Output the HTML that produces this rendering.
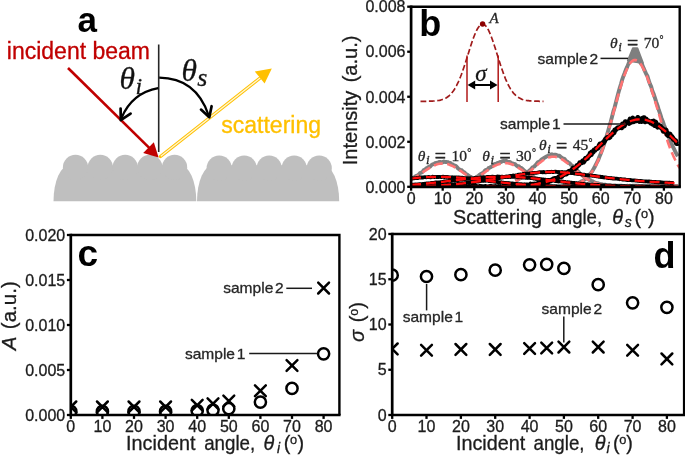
<!DOCTYPE html>
<html lang="en"><head><meta charset="utf-8"><title>Scattering figure</title>
<style>
html,body{margin:0;padding:0;background:#fff;}
body{width:685px;height:455px;overflow:hidden;}
svg{display:block;font-family:"Liberation Sans",Arial,sans-serif;filter:blur(0.6px);}
.tk{font-size:16px;fill:#1c1c1c;stroke:#1c1c1c;stroke-width:0.3px;}
.ax{font-size:20px;fill:#1c1c1c;stroke:#1c1c1c;stroke-width:0.3px;}
.lb{font-size:15.55px;fill:#262626;stroke:#262626;stroke-width:0.3px;word-spacing:-2.5px;}
.pl{font-size:34px;font-weight:bold;fill:#000;}
.mt{font-family:"Liberation Serif","DejaVu Serif",serif;font-style:italic;fill:#262626;stroke:#262626;stroke-width:0.3px;}
.fr{stroke:#000;fill:none;}
</style></head><body>
<svg width="685" height="455" viewBox="0 0 685 455">
<rect width="685" height="455" fill="#fff"/>

<g id="panel-a">
<path d="M53.5,201.3 A16,36 0 0 1 69.5,165.3 L180.3,165.3 A16,36 0 0 1 196.3,201.3 Z" fill="#bfbfbf"/><circle cx="75.5" cy="167.4" r="12.6" fill="#bfbfbf"/><circle cx="100.3" cy="167.4" r="12.6" fill="#bfbfbf"/><circle cx="125.2" cy="167.4" r="12.6" fill="#bfbfbf"/><circle cx="149.8" cy="167.4" r="12.6" fill="#bfbfbf"/><circle cx="174.6" cy="167.4" r="12.6" fill="#bfbfbf"/>
<path d="M197,201.3 A16,36 0 0 1 213,165.3 L323.2,165.3 A16,36 0 0 1 339.2,201.3 Z" fill="#bfbfbf"/><circle cx="219.2" cy="168.2" r="12.6" fill="#bfbfbf"/><circle cx="244.2" cy="168.2" r="12.6" fill="#bfbfbf"/><circle cx="269.2" cy="168.2" r="12.6" fill="#bfbfbf"/><circle cx="294.2" cy="168.2" r="12.6" fill="#bfbfbf"/><circle cx="319.2" cy="168.2" r="12.6" fill="#bfbfbf"/>
<line x1="158.7" y1="44.5" x2="158.7" y2="152" stroke="#262626" stroke-width="1.6"/>
<line x1="68" y1="68" x2="150" y2="148.6" stroke="#c00000" stroke-width="2.6"/>
<polygon points="158.6,157.4 143.2,153.0 153.8,142.2" fill="#c00000"/>
<line x1="160.5" y1="156.5" x2="262" y2="76.5" stroke="#ffc000" stroke-width="3.4" stroke-linecap="round"/>
<line x1="160.8" y1="156.2" x2="262" y2="76.5" stroke="#fff6d6" stroke-width="1.3"/>
<polygon points="271.8,68.4 264.6,83.6 254.8,71.4" fill="#ffc000"/>
<path d="M158.2,88.2 Q132,93 121.5,118" stroke="#000" stroke-width="2.3" fill="none"/>
<path d="M120.8,120.2 L120.6,108.6 M120.8,120.2 L130.6,113.6" stroke="#000" stroke-width="2.7" fill="none" stroke-linecap="round"/>
<path d="M159.2,77.6 Q196,78 208.5,115" stroke="#000" stroke-width="2.3" fill="none"/>
<path d="M209.3,117.2 L201.0,109.6 M209.3,117.2 L211.6,106.2" stroke="#000" stroke-width="2.7" fill="none" stroke-linecap="round"/>
<text x="77.6" y="31.9" class="pl" style="font-size:35px">a</text>
<text x="6.8" y="59" style="font-size:23px;fill:#c00000;stroke:#c00000;stroke-width:0.3px">incident beam</text>
<text x="221.3" y="133" style="font-size:23px;fill:#ffc000;stroke:#ffc000;stroke-width:0.3px">scattering</text>
<text class="mt" y="89.2" style="font-size:31.5px;fill:#111"><tspan x="119.4">θ</tspan><tspan x="135.4" dy="5.1" font-size="24">i</tspan></text>
<text class="mt" y="80.8" style="font-size:31.5px;fill:#111"><tspan x="181.6">θ</tspan><tspan x="197.2" dy="5.5" font-size="26">s</tspan></text>
</g>
<g id="panel-b">
<clipPath id="cb"><rect x="411.1" y="6.7" width="268.6" height="180.10000000000002"/></clipPath>
<g clip-path="url(#cb)" fill="none" stroke-linejoin="round">
<path d="M411.1,179.2 L412.4,178.3 L413.6,177.7 L414.9,176.7 L416.2,175.9 L417.4,175.5 L418.7,174.7 L419.9,173.1 L421.2,172.7 L422.5,171.8 L423.7,170.1 L425.0,169.7 L426.3,168.4 L427.5,167.9 L428.8,166.9 L430.1,166.6 L431.3,165.3 L432.6,164.3 L433.9,164.0 L435.1,163.2 L436.4,162.8 L437.6,163.1 L438.9,161.9 L440.2,161.9 L441.4,162.1 L442.7,162.4 L444.0,161.4 L445.2,162.0 L446.5,162.0 L447.8,162.1 L449.0,162.7 L450.3,163.0 L451.5,164.2 L452.8,164.4 L454.1,165.5 L455.3,165.7 L456.6,166.6 L457.9,168.3 L459.1,169.1 L460.4,169.9 L461.7,170.2 L462.9,171.6 L464.2,172.3 L465.5,173.5 L466.7,174.3 L468.0,175.2 L469.2,176.1 L470.5,176.8 L471.8,177.5 L473.0,178.1 L474.3,179.0 L475.6,179.5 L476.8,180.2 L478.1,180.7" stroke="#7f7f7f" stroke-width="3.9"/>
<path d="M469.6,180.8 L470.8,180.4 L472.1,179.4 L473.4,178.7 L474.6,178.0 L475.9,177.4 L477.1,176.5 L478.4,176.0 L479.7,174.7 L480.9,174.0 L482.2,173.3 L483.5,172.6 L484.7,170.9 L486.0,169.9 L487.3,169.8 L488.5,168.1 L489.8,167.6 L491.0,167.0 L492.3,166.1 L493.6,164.8 L494.8,163.9 L496.1,164.2 L497.4,162.9 L498.6,163.1 L499.9,161.9 L501.2,162.0 L502.4,161.1 L503.7,160.8 L505.0,161.4 L506.2,160.8 L507.5,161.8 L508.7,162.3 L510.0,162.0 L511.3,163.1 L512.5,163.4 L513.8,163.8 L515.1,164.2 L516.3,165.4 L517.6,166.3 L518.9,166.3 L520.1,167.7 L521.4,168.0 L522.6,169.0 L523.9,170.4 L525.2,171.3 L526.4,172.2 L527.7,173.0 L529.0,174.0 L530.2,174.9 L531.5,175.7 L532.8,176.3 L534.0,177.4 L535.3,178.3 L536.6,178.8 L537.8,179.8 L539.1,180.4 L540.3,180.6" stroke="#7f7f7f" stroke-width="3.9"/>
<path d="M515.4,180.8 L516.6,180.1 L517.9,179.7 L519.2,178.7 L520.4,177.8 L521.7,177.3 L523.0,176.0 L524.2,175.0 L525.5,174.4 L526.8,172.9 L528.0,172.0 L529.3,170.6 L530.5,169.7 L531.8,168.2 L533.1,167.0 L534.3,166.5 L535.6,165.2 L536.9,163.5 L538.1,162.0 L539.4,161.6 L540.7,160.4 L541.9,159.2 L543.2,158.6 L544.5,157.7 L545.7,157.0 L547.0,156.3 L548.2,155.5 L549.5,155.4 L550.8,155.0 L552.0,154.3 L553.3,155.2 L554.6,154.6 L555.8,154.6 L557.1,155.4 L558.4,155.9 L559.6,155.8 L560.9,157.1 L562.1,157.9 L563.4,158.5 L564.7,159.1 L565.9,160.8 L567.2,161.6 L568.5,162.7 L569.7,163.3 L571.0,164.9 L572.3,165.7 L573.5,167.5 L574.8,168.6 L576.1,169.5 L577.3,170.5 L578.6,172.0 L579.8,173.2 L581.1,174.4 L582.4,175.1 L583.6,176.3 L584.9,176.8 L586.2,177.7 L587.4,178.9 L588.7,179.6 L590.0,180.0 L591.2,180.7 L592.5,181.2 L593.7,182.0 L595.0,182.6 L596.3,182.9 L597.5,183.1 L598.8,183.7 L600.1,184.0 L601.3,184.2 L602.6,184.5 L603.9,184.7 L605.1,184.7 L606.4,185.1 L607.7,185.3 L608.9,185.1 L610.2,185.2 L611.4,185.3 L612.7,185.6 L614.0,185.4 L615.2,185.5 L616.5,185.8 L617.8,185.6 L619.0,185.6 L620.3,185.7 L621.6,185.8 L622.8,185.9 L624.1,185.9 L625.3,186.0 L626.6,186.0 L627.9,185.8 L629.1,186.0 L630.4,185.8 L631.7,186.1 L632.9,185.7 L634.2,185.8 L635.5,185.7 L636.7,185.8 L638.0,185.8 L639.3,185.9 L640.5,186.1 L641.8,185.8 L643.0,186.0 L644.3,186.0 L645.6,185.8 L646.8,185.9 L648.1,185.9 L649.4,185.7 L650.6,185.9 L651.9,186.0 L653.2,186.0 L654.4,185.8 L655.7,185.9 L656.9,185.8 L658.2,186.0 L659.5,186.0 L660.7,185.9 L662.0,185.8 L663.3,186.0 L664.5,185.8 L665.8,185.7 L667.1,185.8 L668.3,185.8 L669.6,186.1 L670.9,185.9 L672.1,185.8 L673.4,186.1 L674.6,186.0 L675.9,186.0 L677.2,185.9 L678.4,185.9" stroke="#7f7f7f" stroke-width="3.9"/>
<path d="M562.8,185.6 L564.0,185.5 L565.3,185.7 L566.6,185.5 L567.8,185.4 L569.1,185.3 L570.4,185.1 L571.6,184.6 L572.9,184.4 L574.2,184.4 L575.4,183.9 L576.7,183.6 L577.9,183.2 L579.2,182.7 L580.5,182.0 L581.7,181.3 L583.0,180.7 L584.3,179.8 L585.5,178.8 L586.8,177.8 L588.1,176.3 L589.3,174.8 L590.6,173.4 L591.9,171.8 L593.1,169.8 L594.4,167.6 L595.6,165.1 L596.9,162.5 L598.2,160.0 L599.4,156.8 L600.7,153.7 L602.0,150.4 L603.2,146.8 L604.5,142.9 L605.8,138.8 L607.0,134.8 L608.3,130.3 L609.5,126.0 L610.8,121.6 L612.1,116.6 L613.3,111.7 L614.6,107.5 L615.9,102.5 L617.1,97.7 L618.4,92.7 L619.7,88.1 L620.9,84.3 L622.2,79.6 L623.5,75.9 L624.7,72.9 L626.0,69.4 L627.2,66.9 L628.5,63.6 L629.8,61.6 L631.0,59.7 L632.3,58.6 L633.6,58.1 L634.8,57.7 L636.1,58.2 L637.4,59.4 L638.6,59.9 L639.9,62.0 L641.1,63.7 L642.4,65.1 L643.7,68.4 L644.9,71.1 L646.2,74.0 L647.5,76.3 L648.7,80.5 L650.0,84.1 L651.3,86.9 L652.5,91.4 L653.8,94.4 L655.1,98.4 L656.3,102.1 L657.6,105.8 L658.8,110.0 L660.1,113.6 L661.4,117.9 L662.6,120.9 L663.9,124.7 L665.2,128.0 L666.4,131.8 L667.7,134.5 L669.0,137.5 L670.2,141.1 L671.5,143.8 L672.7,146.3 L674.0,148.8 L675.3,151.6 L676.5,154.0 L677.8,156.2" stroke="#7f7f7f" stroke-width="3.9"/>
<path d="M627.9,60.7 L632.9,48.3 L637.4,48.3 L643.0,63.0 Z" fill="#7f7f7f" stroke="#7f7f7f" stroke-width="2"/>
<path d="M411.1,179.7 L412.7,178.9 L414.3,178.0 L415.8,177.0 L417.4,176.0 L419.0,175.0 L420.6,173.9 L422.2,172.8 L423.7,171.7 L425.3,170.7 L426.9,169.6 L428.5,168.6 L430.1,167.6 L431.6,166.7 L433.2,165.9 L434.8,165.2 L436.4,164.6 L438.0,164.1 L439.5,163.8 L441.1,163.6 L442.7,163.5 L444.3,163.6 L445.9,163.8 L447.4,164.1 L449.0,164.6 L450.6,165.2 L452.2,165.9 L453.8,166.7 L455.3,167.6 L456.9,168.6 L458.5,169.6 L460.1,170.7 L461.7,171.7 L463.2,172.8 L464.8,173.9 L466.4,175.0 L468.0,176.0 L469.6,177.0 L471.1,178.0 L472.7,178.9 L474.3,179.7 L475.9,180.5 L477.5,181.2 L479.0,181.8" stroke="#ff7474" stroke-width="2.6" stroke-dasharray="9 4.5"/>
<path d="M469.6,181.4 L471.1,180.7 L472.7,179.9 L474.3,179.1 L475.9,178.2 L477.5,177.2 L479.0,176.2 L480.6,175.2 L482.2,174.1 L483.8,173.0 L485.4,171.9 L486.9,170.8 L488.5,169.7 L490.1,168.7 L491.7,167.7 L493.3,166.7 L494.8,165.8 L496.4,165.1 L498.0,164.4 L499.6,163.9 L501.2,163.5 L502.7,163.2 L504.3,163.1 L505.9,163.1 L507.5,163.2 L509.1,163.5 L510.6,164.0 L512.2,164.5 L513.8,165.2 L515.4,166.0 L517.0,166.9 L518.5,167.9 L520.1,168.9 L521.7,169.9 L523.3,171.0 L524.9,172.1 L526.4,173.2 L528.0,174.3 L529.6,175.4 L531.2,176.4 L532.8,177.4 L534.3,178.4 L535.9,179.2 L537.5,180.1 L539.1,180.8 L540.7,181.5" stroke="#ff7474" stroke-width="2.6" stroke-dasharray="9 4.5"/>
<path d="M515.4,181.3 L517.0,180.6 L518.5,179.7 L520.1,178.8 L521.7,177.8 L523.3,176.7 L524.9,175.5 L526.4,174.3 L528.0,173.0 L529.6,171.6 L531.2,170.3 L532.8,168.8 L534.3,167.4 L535.9,166.0 L537.5,164.7 L539.1,163.3 L540.7,162.1 L542.2,160.9 L543.8,159.9 L545.4,158.9 L547.0,158.2 L548.6,157.5 L550.1,157.1 L551.7,156.8 L553.3,156.7 L554.9,156.8 L556.5,157.1 L558.0,157.5 L559.6,158.2 L561.2,158.9 L562.8,159.9 L564.4,160.9 L565.9,162.1 L567.5,163.3 L569.1,164.7 L570.7,166.0 L572.3,167.4 L573.8,168.8 L575.4,170.3 L577.0,171.6 L578.6,173.0 L580.2,174.3 L581.7,175.5 L583.3,176.7 L584.9,177.8 L586.5,178.8 L588.1,179.7 L589.6,180.6 L591.2,181.3 L592.8,182.0 L594.4,182.6 L596.0,183.2 L597.5,183.6 L599.1,184.0 L600.7,184.4 L602.3,184.7 L603.9,185.0 L605.4,185.2 L607.0,185.4 L608.6,185.5 L610.2,185.6 L611.8,185.7 L613.3,185.8 L614.9,185.9 L616.5,185.9 L618.1,186.0 L619.7,186.0 L621.2,186.0 L622.8,186.1 L624.4,186.1 L626.0,186.1 L627.6,186.1 L629.1,186.1 L630.7,186.1 L632.3,186.1 L633.9,186.1 L635.5,186.1 L637.0,186.1 L638.6,186.1 L640.2,186.1 L641.8,186.1 L643.4,186.1 L644.9,186.1 L646.5,186.1 L648.1,186.1 L649.7,186.1 L651.3,186.1 L652.8,186.1 L654.4,186.1 L656.0,186.1 L657.6,186.1 L659.2,186.1 L660.7,186.1 L662.3,186.1 L663.9,186.1 L665.5,186.1 L667.1,186.1 L668.6,186.1 L670.2,186.1 L671.8,186.1 L673.4,186.1 L675.0,186.1 L676.5,186.1 L678.1,186.1" stroke="#ff7474" stroke-width="2.6" stroke-dasharray="9 4.5"/>
<path d="M562.8,185.9 L564.4,185.8 L565.9,185.7 L567.5,185.5 L569.1,185.4 L570.7,185.2 L572.3,184.9 L573.8,184.6 L575.4,184.2 L577.0,183.7 L578.6,183.2 L580.2,182.5 L581.7,181.7 L583.3,180.7 L584.9,179.6 L586.5,178.2 L588.1,176.7 L589.6,174.9 L591.2,172.9 L592.8,170.6 L594.4,168.0 L596.0,165.1 L597.5,161.8 L599.1,158.3 L600.7,154.4 L602.3,150.2 L603.9,145.6 L605.4,140.8 L607.0,135.7 L608.6,130.3 L610.2,124.7 L611.8,119.0 L613.3,113.2 L614.9,107.3 L616.5,101.4 L618.1,95.7 L619.7,90.1 L621.2,84.8 L622.8,79.8 L624.4,75.3 L626.0,71.2 L627.6,67.7 L629.1,64.7 L630.7,62.5 L632.3,61.0 L633.9,60.1 L635.5,60.0 L637.0,60.6 L638.6,61.7 L640.2,63.5 L641.8,65.8 L643.4,68.6 L644.9,71.9 L646.5,75.6 L648.1,79.7 L649.7,84.2 L651.3,89.0 L652.8,93.9 L654.4,99.1 L656.0,104.3 L657.6,109.6 L659.2,114.9 L660.7,120.2 L662.3,125.3 L663.9,130.4 L665.5,135.2 L667.1,139.9 L668.6,144.3 L670.2,148.5 L671.8,152.4 L673.4,156.1 L675.0,159.5 L676.5,162.6 L678.1,165.5 L679.7,168.1" stroke="#ff7474" stroke-width="2.6" stroke-dasharray="9 4.5"/>
<path d="M411.1,178.4 L412.0,178.2 L413.0,178.3 L413.9,178.3 L414.9,178.2 L415.8,178.1 L416.8,178.0 L417.7,178.1 L418.7,177.8 L419.6,177.4 L420.6,177.7 L421.5,177.4 L422.5,177.7 L423.4,177.3 L424.4,177.2 L425.3,177.2 L426.3,177.3 L427.2,177.2 L428.2,177.1 L429.1,176.9 L430.1,177.3 L431.0,177.3 L432.0,176.9 L432.9,176.7 L433.9,177.0 L434.8,177.0 L435.7,176.8 L436.7,177.1 L437.6,177.0 L438.6,177.1 L439.5,176.8 L440.5,177.0 L441.4,177.1 L442.4,176.8 L443.3,176.6 L444.3,177.1 L445.2,176.8 L446.2,177.0 L447.1,176.8 L448.1,177.0 L449.0,177.2 L450.0,177.3 L450.9,177.5 L451.9,177.2 L452.8,177.3 L453.8,177.5 L454.7,177.5 L455.7,177.5 L456.6,177.3 L457.6,177.8 L458.5,177.3 L459.4,177.7 L460.4,177.7 L461.3,177.9 L462.3,177.7 L463.2,177.8 L464.2,178.1 L465.1,178.2 L466.1,178.2 L467.0,178.2 L468.0,178.5 L468.9,178.4 L469.9,178.4 L470.8,178.8 L471.8,179.0 L472.7,179.1 L473.7,179.0 L474.6,179.1 L475.6,179.1 L476.5,179.2 L477.5,179.6 L478.4,179.8 L479.4,179.9 L480.3,180.0 L481.3,179.9 L482.2,179.9 L483.1,180.0 L484.1,180.4 L485.0,180.3 L486.0,180.6 L486.9,180.7 L487.9,180.7 L488.8,181.1 L489.8,181.2 L490.7,181.0 L491.7,181.4 L492.6,181.4 L493.6,181.5 L494.5,181.5 L495.5,181.9 L496.4,181.9 L497.4,182.0 L498.3,182.1 L499.3,182.3 L500.2,182.3 L501.2,182.2 L502.1,182.6 L503.1,182.6 L504.0,182.9 L505.0,182.9 L505.9,182.9 L506.8,183.2 L507.8,183.0 L508.7,183.1 L509.7,183.5 L510.6,183.3 L511.6,183.6 L512.5,183.5 L513.5,183.6 L514.4,183.9 L515.4,183.9 L516.3,183.9 L517.3,184.0 L518.2,184.2 L519.2,184.2 L520.1,184.2 L521.1,184.4 L522.0,184.5 L523.0,184.7 L523.9,184.6 L524.9,184.8 L525.8,184.7 L526.8,184.8 L527.7,184.9 L528.7,185.1 L529.6,185.0 L530.5,185.1 L531.5,185.3 L532.4,185.1 L533.4,185.3 L534.3,185.4 L535.3,185.3 L536.2,185.5 L537.2,185.6 L538.1,185.5 L539.1,185.6 L540.0,185.6 L541.0,185.7 L541.9,185.8 L542.9,185.8 L543.8,185.9 L544.8,186.0 L545.7,185.9 L546.7,185.9 L547.6,186.0 L548.6,186.0 L549.5,186.1 L550.5,186.1 L551.4,186.1 L552.4,186.1 L553.3,186.3 L554.2,186.2 L555.2,186.3 L556.1,186.2 L557.1,186.3 L558.0,186.3 L559.0,186.4 L559.9,186.3 L560.9,186.3 L561.8,186.4 L562.8,186.3 L563.7,186.5 L564.7,186.5 L565.6,186.5 L566.6,186.6 L567.5,186.4 L568.5,186.5 L569.4,186.6 L570.4,186.6 L571.3,186.6 L572.3,186.5 L573.2,186.5 L574.2,186.5 L575.1,186.6 L576.1,186.7 L577.0,186.6 L577.9,186.7 L578.9,186.6 L579.8,186.6 L580.8,186.7 L581.7,186.7 L582.7,186.6 L583.6,186.8 L584.6,186.6 L585.5,186.6 L586.5,186.6 L587.4,186.7 L588.4,186.7 L589.3,186.7 L590.3,186.7 L591.2,186.6 L592.2,186.7 L593.1,186.8 L594.1,186.7 L595.0,186.7 L596.0,186.7 L596.9,186.7 L597.9,186.8 L598.8,186.7 L599.8,186.7 L600.7,186.8 L601.6,186.8 L602.6,186.8 L603.5,186.8 L604.5,186.8 L605.4,186.9 L606.4,186.8 L607.3,186.7 L608.3,186.8 L609.2,186.8 L610.2,186.7 L611.1,186.7 L612.1,186.8 L613.0,186.7 L614.0,186.8 L614.9,186.9 L615.9,186.8 L616.8,186.8 L617.8,186.9 L618.7,186.8 L619.7,186.7 L620.6,186.8 L621.6,186.7 L622.5,186.8 L623.5,186.9 L624.4,186.7 L625.3,186.8 L626.3,186.7 L627.2,186.8 L628.2,186.8 L629.1,186.8 L630.1,186.7 L631.0,186.7 L632.0,186.7 L632.9,186.8 L633.9,186.8 L634.8,186.8 L635.8,186.9 L636.7,186.9 L637.7,186.9 L638.6,186.9 L639.6,186.9 L640.5,186.8 L641.5,186.8 L642.4,186.8 L643.4,186.8 L644.3,186.8 L645.3,186.8 L646.2,186.8 L647.2,186.8 L648.1,186.8 L649.0,186.9 L650.0,186.7 L650.9,186.8 L651.9,186.8 L652.8,186.8 L653.8,186.8 L654.7,186.8 L655.7,186.8 L656.6,186.9 L657.6,186.9 L658.5,186.7 L659.5,186.9 L660.4,186.8 L661.4,186.9 L662.3,186.9 L663.3,186.9 L664.2,186.8 L665.2,186.9 L666.1,186.9 L667.1,186.9 L668.0,186.9 L669.0,186.8 L669.9,186.9 L670.9,186.9 L671.8,186.8 L672.7,186.8 L673.7,186.8" stroke="#000" stroke-width="3.8"/>
<path d="M411.1,185.0 L412.0,184.8 L413.0,184.7 L413.9,184.8 L414.9,184.4 L415.8,184.6 L416.8,184.5 L417.7,184.3 L418.7,184.4 L419.6,184.1 L420.6,184.1 L421.5,184.1 L422.5,184.1 L423.4,183.8 L424.4,183.8 L425.3,183.6 L426.3,183.6 L427.2,183.3 L428.2,183.5 L429.1,183.4 L430.1,183.3 L431.0,183.0 L432.0,183.0 L432.9,183.0 L433.9,182.9 L434.8,182.6 L435.7,182.4 L436.7,182.4 L437.6,182.6 L438.6,182.4 L439.5,182.3 L440.5,182.2 L441.4,182.1 L442.4,182.0 L443.3,181.7 L444.3,181.4 L445.2,181.6 L446.2,181.2 L447.1,181.3 L448.1,181.0 L449.0,180.9 L450.0,180.7 L450.9,181.0 L451.9,180.8 L452.8,180.5 L453.8,180.3 L454.7,180.5 L455.7,180.3 L456.6,180.0 L457.6,180.2 L458.5,179.9 L459.4,179.9 L460.4,179.6 L461.3,179.3 L462.3,179.6 L463.2,179.2 L464.2,179.1 L465.1,178.9 L466.1,179.0 L467.0,178.7 L468.0,178.9 L468.9,178.7 L469.9,178.7 L470.8,178.3 L471.8,178.4 L472.7,178.4 L473.7,178.4 L474.6,178.0 L475.6,178.0 L476.5,177.8 L477.5,177.9 L478.4,177.8 L479.4,177.9 L480.3,177.5 L481.3,177.8 L482.2,177.5 L483.1,177.2 L484.1,177.2 L485.0,177.5 L486.0,177.4 L486.9,176.9 L487.9,177.0 L488.8,176.8 L489.8,176.8 L490.7,177.0 L491.7,176.7 L492.6,176.7 L493.6,176.9 L494.5,176.9 L495.5,177.0 L496.4,176.8 L497.4,176.4 L498.3,177.0 L499.3,176.6 L500.2,176.9 L501.2,176.9 L502.1,176.6 L503.1,176.8 L504.0,177.0 L505.0,176.9 L505.9,176.6 L506.8,176.6 L507.8,177.0 L508.7,176.9 L509.7,176.5 L510.6,177.0 L511.6,176.8 L512.5,176.9 L513.5,176.7 L514.4,176.9 L515.4,176.8 L516.3,177.0 L517.3,177.3 L518.2,177.3 L519.2,177.4 L520.1,177.1 L521.1,177.5 L522.0,177.7 L523.0,177.2 L523.9,177.7 L524.9,177.4 L525.8,177.9 L526.8,177.8 L527.7,178.0 L528.7,177.7 L529.6,177.9 L530.5,178.0 L531.5,178.0 L532.4,178.1 L533.4,178.5 L534.3,178.4 L535.3,178.6 L536.2,178.9 L537.2,178.6 L538.1,178.8 L539.1,178.8 L540.0,179.2 L541.0,179.2 L541.9,179.3 L542.9,179.3 L543.8,179.7 L544.8,179.7 L545.7,179.7 L546.7,180.1 L547.6,179.9 L548.6,180.0 L549.5,180.2 L550.5,180.2 L551.4,180.4 L552.4,180.7 L553.3,180.7 L554.2,180.5 L555.2,181.0 L556.1,181.0 L557.1,181.3 L558.0,181.4 L559.0,181.5 L559.9,181.3 L560.9,181.5 L561.8,181.5 L562.8,181.6 L563.7,181.9 L564.7,181.8 L565.6,182.1 L566.6,182.3 L567.5,182.2 L568.5,182.3 L569.4,182.4 L570.4,182.7 L571.3,182.7 L572.3,182.9 L573.2,182.8 L574.2,182.9 L575.1,183.2 L576.1,183.1 L577.0,183.5 L577.9,183.6 L578.9,183.5 L579.8,183.7 L580.8,183.7 L581.7,183.8 L582.7,184.0 L583.6,183.9 L584.6,184.1 L585.5,184.2 L586.5,184.3 L587.4,184.2 L588.4,184.3 L589.3,184.5 L590.3,184.6 L591.2,184.7 L592.2,184.7 L593.1,184.9 L594.1,184.9 L595.0,184.8 L596.0,184.9 L596.9,184.9 L597.9,185.0 L598.8,185.0 L599.8,185.2 L600.7,185.3 L601.6,185.4 L602.6,185.4 L603.5,185.4 L604.5,185.5 L605.4,185.5 L606.4,185.5 L607.3,185.7 L608.3,185.7 L609.2,185.6 L610.2,185.7 L611.1,185.8 L612.1,185.9 L613.0,185.8 L614.0,186.0 L614.9,186.0 L615.9,186.0 L616.8,186.0 L617.8,186.1 L618.7,186.2 L619.7,186.2 L620.6,186.1 L621.6,186.2 L622.5,186.1 L623.5,186.2 L624.4,186.1 L625.3,186.4 L626.3,186.4 L627.2,186.4 L628.2,186.3 L629.1,186.4 L630.1,186.5 L631.0,186.4 L632.0,186.5 L632.9,186.5 L633.9,186.5 L634.8,186.4 L635.8,186.5 L636.7,186.5 L637.7,186.6 L638.6,186.5 L639.6,186.5 L640.5,186.5 L641.5,186.5 L642.4,186.5 L643.4,186.6 L644.3,186.7 L645.3,186.6 L646.2,186.6 L647.2,186.6 L648.1,186.6 L649.0,186.6 L650.0,186.7 L650.9,186.7 L651.9,186.8 L652.8,186.6 L653.8,186.6 L654.7,186.6 L655.7,186.7 L656.6,186.7 L657.6,186.6 L658.5,186.7 L659.5,186.7 L660.4,186.7 L661.4,186.7 L662.3,186.8 L663.3,186.8 L664.2,186.7 L665.2,186.7 L666.1,186.7 L667.1,186.8 L668.0,186.8 L669.0,186.8 L669.9,186.7 L670.9,186.8 L671.8,186.7 L672.7,186.8 L673.7,186.8" stroke="#000" stroke-width="3.8"/>
<path d="M411.1,186.4 L412.0,186.4 L413.0,186.3 L413.9,186.3 L414.9,186.3 L415.8,186.3 L416.8,186.4 L417.7,186.3 L418.7,186.2 L419.6,186.2 L420.6,186.2 L421.5,186.1 L422.5,186.1 L423.4,186.2 L424.4,186.0 L425.3,186.1 L426.3,186.0 L427.2,185.9 L428.2,185.8 L429.1,185.9 L430.1,185.9 L431.0,185.7 L432.0,185.8 L432.9,185.8 L433.9,185.6 L434.8,185.7 L435.7,185.6 L436.7,185.4 L437.6,185.4 L438.6,185.5 L439.5,185.4 L440.5,185.4 L441.4,185.4 L442.4,185.3 L443.3,185.0 L444.3,185.2 L445.2,185.1 L446.2,185.0 L447.1,185.0 L448.1,184.8 L449.0,184.7 L450.0,184.6 L450.9,184.6 L451.9,184.4 L452.8,184.6 L453.8,184.4 L454.7,184.1 L455.7,184.3 L456.6,184.1 L457.6,184.0 L458.5,184.0 L459.4,183.8 L460.4,183.8 L461.3,183.7 L462.3,183.4 L463.2,183.5 L464.2,183.2 L465.1,183.3 L466.1,182.9 L467.0,182.9 L468.0,182.8 L468.9,182.8 L469.9,182.7 L470.8,182.4 L471.8,182.5 L472.7,182.3 L473.7,182.0 L474.6,181.9 L475.6,182.0 L476.5,181.6 L477.5,181.6 L478.4,181.5 L479.4,181.4 L480.3,181.2 L481.3,180.8 L482.2,180.9 L483.1,180.9 L484.1,180.7 L485.0,180.6 L486.0,180.3 L486.9,180.0 L487.9,180.1 L488.8,179.9 L489.8,179.5 L490.7,179.3 L491.7,179.2 L492.6,179.3 L493.6,179.1 L494.5,178.7 L495.5,178.7 L496.4,178.5 L497.4,178.5 L498.3,178.4 L499.3,178.1 L500.2,177.8 L501.2,177.6 L502.1,177.5 L503.1,177.4 L504.0,177.2 L505.0,177.1 L505.9,176.9 L506.8,176.6 L507.8,176.7 L508.7,176.4 L509.7,176.1 L510.6,176.0 L511.6,176.1 L512.5,175.6 L513.5,175.5 L514.4,175.7 L515.4,175.5 L516.3,175.4 L517.3,175.3 L518.2,174.7 L519.2,174.8 L520.1,174.4 L521.1,174.7 L522.0,174.6 L523.0,174.0 L523.9,173.9 L524.9,173.7 L525.8,173.7 L526.8,173.7 L527.7,173.5 L528.7,173.7 L529.6,173.4 L530.5,173.3 L531.5,173.4 L532.4,173.0 L533.4,173.1 L534.3,172.9 L535.3,172.9 L536.2,172.8 L537.2,172.7 L538.1,172.5 L539.1,172.2 L540.0,172.1 L541.0,172.1 L541.9,172.1 L542.9,172.4 L543.8,171.9 L544.8,172.3 L545.7,172.3 L546.7,172.1 L547.6,171.9 L548.6,172.1 L549.5,171.9 L550.5,172.1 L551.4,171.7 L552.4,172.0 L553.3,172.0 L554.2,171.9 L555.2,171.7 L556.1,171.7 L557.1,172.0 L558.0,172.1 L559.0,172.0 L559.9,172.4 L560.9,172.2 L561.8,172.0 L562.8,172.1 L563.7,172.7 L564.7,172.2 L565.6,172.6 L566.6,172.3 L567.5,172.8 L568.5,173.0 L569.4,172.9 L570.4,172.8 L571.3,173.2 L572.3,173.0 L573.2,173.2 L574.2,173.5 L575.1,173.7 L576.1,173.7 L577.0,173.8 L577.9,174.0 L578.9,173.9 L579.8,173.9 L580.8,174.2 L581.7,174.6 L582.7,174.7 L583.6,174.7 L584.6,174.7 L585.5,175.1 L586.5,175.2 L587.4,175.2 L588.4,175.4 L589.3,175.6 L590.3,175.5 L591.2,175.4 L592.2,175.8 L593.1,175.8 L594.1,175.9 L595.0,176.0 L596.0,176.1 L596.9,176.4 L597.9,176.4 L598.8,176.8 L599.8,176.6 L600.7,177.0 L601.6,177.0 L602.6,177.0 L603.5,177.4 L604.5,177.5 L605.4,177.3 L606.4,177.6 L607.3,177.9 L608.3,178.0 L609.2,178.0 L610.2,178.3 L611.1,178.0 L612.1,178.4 L613.0,178.5 L614.0,178.5 L614.9,178.6 L615.9,178.7 L616.8,178.7 L617.8,178.8 L618.7,179.0 L619.7,179.3 L620.6,179.0 L621.6,179.2 L622.5,179.6 L623.5,179.5 L624.4,179.5 L625.3,179.5 L626.3,179.9 L627.2,180.0 L628.2,179.9 L629.1,180.1 L630.1,180.0 L631.0,180.1 L632.0,180.3 L632.9,180.4 L633.9,180.4 L634.8,180.4 L635.8,180.7 L636.7,180.7 L637.7,180.9 L638.6,180.8 L639.6,181.1 L640.5,180.8 L641.5,181.1 L642.4,181.1 L643.4,181.3 L644.3,181.4 L645.3,181.4 L646.2,181.3 L647.2,181.5 L648.1,181.6 L649.0,181.4 L650.0,181.6 L650.9,181.7 L651.9,181.9 L652.8,181.9 L653.8,181.8 L654.7,182.1 L655.7,182.0 L656.6,182.1 L657.6,182.2 L658.5,182.1 L659.5,182.1 L660.4,182.2 L661.4,182.3 L662.3,182.5 L663.3,182.6 L664.2,182.6 L665.2,182.6 L666.1,182.7 L667.1,182.6 L668.0,182.8 L669.0,182.7 L669.9,182.7 L670.9,183.0 L671.8,182.8 L672.7,183.0 L673.7,183.1" stroke="#000" stroke-width="3.8"/>
<path d="M411.1,187.2 L412.0,187.4 L413.0,186.8 L413.9,186.9 L414.9,186.4 L415.8,186.4 L416.8,187.4 L417.7,186.9 L418.7,186.9 L419.6,187.2 L420.6,187.1 L421.5,187.1 L422.5,186.6 L423.4,187.0 L424.4,187.3 L425.3,187.2 L426.3,186.9 L427.2,186.7 L428.2,187.1 L429.1,186.5 L430.1,187.2 L431.0,186.6 L432.0,186.7 L432.9,187.2 L433.9,186.5 L434.8,186.9 L435.7,186.7 L436.7,186.7 L437.6,186.6 L438.6,186.9 L439.5,187.4 L440.5,186.4 L441.4,186.3 L442.4,186.8 L443.3,186.7 L444.3,187.1 L445.2,186.3 L446.2,186.6 L447.1,187.1 L448.1,186.4 L449.0,186.2 L450.0,187.0 L450.9,186.2 L451.9,186.8 L452.8,187.2 L453.8,186.5 L454.7,187.0 L455.7,186.5 L456.6,186.7 L457.6,187.3 L458.5,186.8 L459.4,186.4 L460.4,186.8 L461.3,186.7 L462.3,186.3 L463.2,186.9 L464.2,186.8 L465.1,186.7 L466.1,186.4 L467.0,187.2 L468.0,187.3 L468.9,186.5 L469.9,186.7 L470.8,187.0 L471.8,186.3 L472.7,186.3 L473.7,186.7 L474.6,186.2 L475.6,186.4 L476.5,186.5 L477.5,187.0 L478.4,187.4 L479.4,186.5 L480.3,186.5 L481.3,187.0 L482.2,186.8 L483.1,186.7 L484.1,187.1 L485.0,186.5 L486.0,186.7 L486.9,186.9 L487.9,187.2 L488.8,186.7 L489.8,186.9 L490.7,186.4 L491.7,187.1 L492.6,186.8 L493.6,187.1 L494.5,186.8 L495.5,186.6 L496.4,187.2 L497.4,187.2 L498.3,186.6 L499.3,187.0 L500.2,186.6 L501.2,187.0 L502.1,187.1 L503.1,186.5 L504.0,186.0 L505.0,186.0 L505.9,186.5 L506.8,186.6 L507.8,187.0 L508.7,186.7 L509.7,186.6 L510.6,185.8 L511.6,186.8 L512.5,185.7 L513.5,186.2 L514.4,186.3 L515.4,186.4 L516.3,185.5 L517.3,186.4 L518.2,185.9 L519.2,185.9 L520.1,186.2 L521.1,186.2 L522.0,185.1 L523.0,185.3 L523.9,185.3 L524.9,185.0 L525.8,185.9 L526.8,185.0 L527.7,184.9 L528.7,185.5 L529.6,185.1 L530.5,184.2 L531.5,185.0 L532.4,184.3 L533.4,185.0 L534.3,184.1 L535.3,184.5 L536.2,184.0 L537.2,184.1 L538.1,183.2 L539.1,183.2 L540.0,183.3 L541.0,182.9 L541.9,183.0 L542.9,182.3 L543.8,182.8 L544.8,182.2 L545.7,181.9 L546.7,181.9 L547.6,182.2 L548.6,181.7 L549.5,180.7 L550.5,181.0 L551.4,179.9 L552.4,179.9 L553.3,178.9 L554.2,178.7 L555.2,178.5 L556.1,178.7 L557.1,178.8 L558.0,177.6 L559.0,176.8 L559.9,176.1 L560.9,176.8 L561.8,176.5 L562.8,174.5 L563.7,174.4 L564.7,174.4 L565.6,173.4 L566.6,173.9 L567.5,172.6 L568.5,171.8 L569.4,171.3 L570.4,171.6 L571.3,171.0 L572.3,169.3 L573.2,168.1 L574.2,169.0 L575.1,168.6 L576.1,167.8 L577.0,165.5 L577.9,165.6 L578.9,164.7 L579.8,162.7 L580.8,162.8 L581.7,162.8 L582.7,161.0 L583.6,161.9 L584.6,160.3 L585.5,158.4 L586.5,158.9 L587.4,158.4 L588.4,156.3 L589.3,155.9 L590.3,153.2 L591.2,154.7 L592.2,151.8 L593.1,152.1 L594.1,150.0 L595.0,150.1 L596.0,148.5 L596.9,148.6 L597.9,148.0 L598.8,146.3 L599.8,144.2 L600.7,144.8 L601.6,144.2 L602.6,142.7 L603.5,142.8 L604.5,141.1 L605.4,139.3 L606.4,138.5 L607.3,137.4 L608.3,137.6 L609.2,137.7 L610.2,136.8 L611.1,134.8 L612.1,134.5 L613.0,132.3 L614.0,132.6 L614.9,129.9 L615.9,129.7 L616.8,128.7 L617.8,127.7 L618.7,127.8 L619.7,127.5 L620.6,127.3 L621.6,127.7 L622.5,124.0 L623.5,124.6 L624.4,125.8 L625.3,121.7 L626.3,122.7 L627.2,122.0 L628.2,122.3 L629.1,123.3 L630.1,119.1 L631.0,122.4 L632.0,121.2 L632.9,118.1 L633.9,121.7 L634.8,119.8 L635.8,119.7 L636.7,120.6 L637.7,117.5 L638.6,119.7 L639.6,121.4 L640.5,119.4 L641.5,121.5 L642.4,118.4 L643.4,117.8 L644.3,117.8 L645.3,121.8 L646.2,119.2 L647.2,121.1 L648.1,120.7 L649.0,121.7 L650.0,122.1 L650.9,123.2 L651.9,121.5 L652.8,124.3 L653.8,121.1 L654.7,125.5 L655.7,122.2 L656.6,126.0 L657.6,127.0 L658.5,124.9 L659.5,126.5 L660.4,126.2 L661.4,128.0 L662.3,128.3 L663.3,131.2 L664.2,129.7 L665.2,131.1 L666.1,130.2 L667.1,134.7 L668.0,135.3 L669.0,133.9 L669.9,133.9 L670.9,136.6 L671.8,136.5 L672.7,138.0 L673.7,139.5 L674.6,140.2 L675.6,140.7 L676.5,143.6 L677.5,143.6 L678.4,143.1" stroke="#000" stroke-width="5.0"/>
<path d="M411.1,178.5 L412.7,178.3 L414.3,178.2 L415.8,178.0 L417.4,177.9 L419.0,177.7 L420.6,177.6 L422.2,177.5 L423.7,177.4 L425.3,177.3 L426.9,177.2 L428.5,177.2 L430.1,177.1 L431.6,177.0 L433.2,177.0 L434.8,176.9 L436.4,176.9 L438.0,176.9 L439.5,176.9 L441.1,176.9 L442.7,176.9 L444.3,176.9 L445.9,177.0 L447.4,177.0 L449.0,177.1 L450.6,177.2 L452.2,177.2 L453.8,177.3 L455.3,177.4 L456.9,177.5 L458.5,177.6 L460.1,177.7 L461.7,177.9 L463.2,178.0 L464.8,178.2 L466.4,178.3 L468.0,178.5 L469.6,178.6 L471.1,178.8 L472.7,179.0 L474.3,179.2 L475.9,179.3 L477.5,179.5 L479.0,179.7 L480.6,179.9 L482.2,180.1 L483.8,180.3 L485.4,180.5 L486.9,180.7 L488.5,180.9 L490.1,181.1 L491.7,181.3 L493.3,181.5 L494.8,181.7 L496.4,181.8 L498.0,182.0 L499.6,182.2 L501.2,182.4 L502.7,182.6 L504.3,182.8 L505.9,182.9 L507.5,183.1 L509.1,183.3 L510.6,183.4 L512.2,183.6 L513.8,183.8 L515.4,183.9 L517.0,184.1 L518.5,184.2 L520.1,184.3 L521.7,184.5 L523.3,184.6 L524.9,184.7 L526.4,184.8 L528.0,184.9 L529.6,185.1 L531.2,185.2 L532.8,185.3 L534.3,185.4 L535.9,185.4 L537.5,185.5 L539.1,185.6 L540.7,185.7 L542.2,185.8 L543.8,185.8 L545.4,185.9 L547.0,186.0 L548.6,186.0 L550.1,186.1 L551.7,186.1 L553.3,186.2 L554.9,186.2 L556.5,186.3 L558.0,186.3 L559.6,186.3 L561.2,186.4 L562.8,186.4 L564.4,186.4 L565.9,186.5 L567.5,186.5 L569.1,186.5 L570.7,186.5 L572.3,186.6 L573.8,186.6 L575.4,186.6 L577.0,186.6 L578.6,186.6 L580.2,186.7 L581.7,186.7 L583.3,186.7 L584.9,186.7 L586.5,186.7 L588.1,186.7 L589.6,186.7 L591.2,186.7 L592.8,186.7 L594.4,186.7 L596.0,186.7 L597.5,186.8 L599.1,186.8 L600.7,186.8 L602.3,186.8 L603.9,186.8 L605.4,186.8 L607.0,186.8 L608.6,186.8 L610.2,186.8 L611.8,186.8 L613.3,186.8 L614.9,186.8 L616.5,186.8 L618.1,186.8 L619.7,186.8 L621.2,186.8 L622.8,186.8 L624.4,186.8 L626.0,186.8 L627.6,186.8 L629.1,186.8 L630.7,186.8 L632.3,186.8 L633.9,186.8 L635.5,186.8 L637.0,186.8 L638.6,186.8 L640.2,186.8 L641.8,186.8 L643.4,186.8 L644.9,186.8 L646.5,186.8 L648.1,186.8 L649.7,186.8 L651.3,186.8 L652.8,186.8 L654.4,186.8 L656.0,186.8 L657.6,186.8 L659.2,186.8 L660.7,186.8 L662.3,186.8 L663.9,186.8 L665.5,186.8 L667.1,186.8 L668.6,186.8 L670.2,186.8 L671.8,186.8 L673.4,186.8 L675.0,186.8 L676.5,186.8 L678.1,186.8 L679.7,186.8" stroke="#ff0a0a" stroke-width="2.3" stroke-dasharray="10 5"/>
<path d="M411.1,184.8 L412.7,184.7 L414.3,184.6 L415.8,184.5 L417.4,184.4 L419.0,184.2 L420.6,184.1 L422.2,184.0 L423.7,183.8 L425.3,183.7 L426.9,183.5 L428.5,183.4 L430.1,183.2 L431.6,183.0 L433.2,182.9 L434.8,182.7 L436.4,182.5 L438.0,182.3 L439.5,182.2 L441.1,182.0 L442.7,181.8 L444.3,181.6 L445.9,181.4 L447.4,181.2 L449.0,181.0 L450.6,180.8 L452.2,180.7 L453.8,180.5 L455.3,180.3 L456.9,180.1 L458.5,179.9 L460.1,179.7 L461.7,179.5 L463.2,179.3 L464.8,179.2 L466.4,179.0 L468.0,178.8 L469.6,178.6 L471.1,178.5 L472.7,178.3 L474.3,178.2 L475.9,178.0 L477.5,177.9 L479.0,177.7 L480.6,177.6 L482.2,177.5 L483.8,177.4 L485.4,177.3 L486.9,177.2 L488.5,177.1 L490.1,177.0 L491.7,176.9 L493.3,176.8 L494.8,176.8 L496.4,176.7 L498.0,176.7 L499.6,176.7 L501.2,176.7 L502.7,176.7 L504.3,176.7 L505.9,176.7 L507.5,176.7 L509.1,176.7 L510.6,176.8 L512.2,176.8 L513.8,176.9 L515.4,177.0 L517.0,177.1 L518.5,177.2 L520.1,177.3 L521.7,177.4 L523.3,177.5 L524.9,177.6 L526.4,177.7 L528.0,177.9 L529.6,178.0 L531.2,178.2 L532.8,178.3 L534.3,178.5 L535.9,178.6 L537.5,178.8 L539.1,179.0 L540.7,179.2 L542.2,179.3 L543.8,179.5 L545.4,179.7 L547.0,179.9 L548.6,180.1 L550.1,180.3 L551.7,180.5 L553.3,180.7 L554.9,180.8 L556.5,181.0 L558.0,181.2 L559.6,181.4 L561.2,181.6 L562.8,181.8 L564.4,182.0 L565.9,182.2 L567.5,182.3 L569.1,182.5 L570.7,182.7 L572.3,182.9 L573.8,183.0 L575.4,183.2 L577.0,183.4 L578.6,183.5 L580.2,183.7 L581.7,183.8 L583.3,184.0 L584.9,184.1 L586.5,184.2 L588.1,184.4 L589.6,184.5 L591.2,184.6 L592.8,184.7 L594.4,184.8 L596.0,184.9 L597.5,185.1 L599.1,185.2 L600.7,185.2 L602.3,185.3 L603.9,185.4 L605.4,185.5 L607.0,185.6 L608.6,185.7 L610.2,185.7 L611.8,185.8 L613.3,185.9 L614.9,185.9 L616.5,186.0 L618.1,186.0 L619.7,186.1 L621.2,186.2 L622.8,186.2 L624.4,186.2 L626.0,186.3 L627.6,186.3 L629.1,186.4 L630.7,186.4 L632.3,186.4 L633.9,186.4 L635.5,186.5 L637.0,186.5 L638.6,186.5 L640.2,186.5 L641.8,186.6 L643.4,186.6 L644.9,186.6 L646.5,186.6 L648.1,186.6 L649.7,186.7 L651.3,186.7 L652.8,186.7 L654.4,186.7 L656.0,186.7 L657.6,186.7 L659.2,186.7 L660.7,186.7 L662.3,186.7 L663.9,186.7 L665.5,186.7 L667.1,186.7 L668.6,186.8 L670.2,186.8 L671.8,186.8 L673.4,186.8 L675.0,186.8 L676.5,186.8 L678.1,186.8 L679.7,186.8" stroke="#ff0a0a" stroke-width="2.3" stroke-dasharray="10 5"/>
<path d="M411.1,186.4 L412.7,186.4 L414.3,186.4 L415.8,186.3 L417.4,186.3 L419.0,186.2 L420.6,186.2 L422.2,186.1 L423.7,186.1 L425.3,186.0 L426.9,186.0 L428.5,185.9 L430.1,185.9 L431.6,185.8 L433.2,185.7 L434.8,185.6 L436.4,185.6 L438.0,185.5 L439.5,185.4 L441.1,185.3 L442.7,185.2 L444.3,185.1 L445.9,185.0 L447.4,184.9 L449.0,184.7 L450.6,184.6 L452.2,184.5 L453.8,184.3 L455.3,184.2 L456.9,184.1 L458.5,183.9 L460.1,183.7 L461.7,183.6 L463.2,183.4 L464.8,183.2 L466.4,183.0 L468.0,182.8 L469.6,182.6 L471.1,182.4 L472.7,182.2 L474.3,182.0 L475.9,181.8 L477.5,181.6 L479.0,181.3 L480.6,181.1 L482.2,180.9 L483.8,180.6 L485.4,180.4 L486.9,180.1 L488.5,179.9 L490.1,179.6 L491.7,179.3 L493.3,179.1 L494.8,178.8 L496.4,178.5 L498.0,178.3 L499.6,178.0 L501.2,177.7 L502.7,177.5 L504.3,177.2 L505.9,176.9 L507.5,176.7 L509.1,176.4 L510.6,176.1 L512.2,175.9 L513.8,175.6 L515.4,175.4 L517.0,175.1 L518.5,174.9 L520.1,174.6 L521.7,174.4 L523.3,174.2 L524.9,174.0 L526.4,173.8 L528.0,173.6 L529.6,173.4 L531.2,173.2 L532.8,173.0 L534.3,172.9 L535.9,172.7 L537.5,172.6 L539.1,172.5 L540.7,172.4 L542.2,172.3 L543.8,172.2 L545.4,172.1 L547.0,172.0 L548.6,172.0 L550.1,172.0 L551.7,171.9 L553.3,171.9 L554.9,172.0 L556.5,172.0 L558.0,172.0 L559.6,172.1 L561.2,172.2 L562.8,172.3 L564.4,172.4 L565.9,172.6 L567.5,172.7 L569.1,172.9 L570.7,173.0 L572.3,173.2 L573.8,173.4 L575.4,173.6 L577.0,173.8 L578.6,174.0 L580.2,174.2 L581.7,174.4 L583.3,174.6 L584.9,174.8 L586.5,175.0 L588.1,175.2 L589.6,175.4 L591.2,175.7 L592.8,175.9 L594.4,176.1 L596.0,176.3 L597.5,176.5 L599.1,176.7 L600.7,176.9 L602.3,177.1 L603.9,177.3 L605.4,177.5 L607.0,177.7 L608.6,177.9 L610.2,178.1 L611.8,178.2 L613.3,178.4 L614.9,178.6 L616.5,178.8 L618.1,178.9 L619.7,179.1 L621.2,179.3 L622.8,179.4 L624.4,179.6 L626.0,179.7 L627.6,179.9 L629.1,180.0 L630.7,180.2 L632.3,180.3 L633.9,180.4 L635.5,180.6 L637.0,180.7 L638.6,180.8 L640.2,181.0 L641.8,181.1 L643.4,181.2 L644.9,181.3 L646.5,181.4 L648.1,181.5 L649.7,181.7 L651.3,181.8 L652.8,181.9 L654.4,182.0 L656.0,182.1 L657.6,182.2 L659.2,182.2 L660.7,182.3 L662.3,182.4 L663.9,182.5 L665.5,182.6 L667.1,182.7 L668.6,182.8 L670.2,182.8 L671.8,182.9 L673.4,183.0 L675.0,183.1 L676.5,183.1 L678.1,183.2 L679.7,183.3" stroke="#ff0a0a" stroke-width="2.3" stroke-dasharray="10 5"/>
<path d="M411.1,186.8 L412.7,186.8 L414.3,186.8 L415.8,186.8 L417.4,186.8 L419.0,186.8 L420.6,186.8 L422.2,186.8 L423.7,186.8 L425.3,186.8 L426.9,186.8 L428.5,186.8 L430.1,186.8 L431.6,186.8 L433.2,186.8 L434.8,186.8 L436.4,186.8 L438.0,186.8 L439.5,186.8 L441.1,186.8 L442.7,186.8 L444.3,186.8 L445.9,186.8 L447.4,186.8 L449.0,186.8 L450.6,186.8 L452.2,186.8 L453.8,186.8 L455.3,186.8 L456.9,186.8 L458.5,186.8 L460.1,186.8 L461.7,186.8 L463.2,186.8 L464.8,186.8 L466.4,186.8 L468.0,186.8 L469.6,186.8 L471.1,186.8 L472.7,186.8 L474.3,186.8 L475.9,186.8 L477.5,186.8 L479.0,186.8 L480.6,186.8 L482.2,186.8 L483.8,186.8 L485.4,186.7 L486.9,186.7 L488.5,186.7 L490.1,186.7 L491.7,186.7 L493.3,186.7 L494.8,186.7 L496.4,186.7 L498.0,186.6 L499.6,186.6 L501.2,186.6 L502.7,186.5 L504.3,186.5 L505.9,186.5 L507.5,186.4 L509.1,186.4 L510.6,186.3 L512.2,186.3 L513.8,186.2 L515.4,186.1 L517.0,186.0 L518.5,186.0 L520.1,185.9 L521.7,185.7 L523.3,185.6 L524.9,185.5 L526.4,185.3 L528.0,185.2 L529.6,185.0 L531.2,184.8 L532.8,184.6 L534.3,184.4 L535.9,184.1 L537.5,183.8 L539.1,183.5 L540.7,183.2 L542.2,182.9 L543.8,182.5 L545.4,182.1 L547.0,181.7 L548.6,181.2 L550.1,180.7 L551.7,180.2 L553.3,179.6 L554.9,179.0 L556.5,178.3 L558.0,177.7 L559.6,176.9 L561.2,176.2 L562.8,175.4 L564.4,174.5 L565.9,173.6 L567.5,172.7 L569.1,171.7 L570.7,170.7 L572.3,169.6 L573.8,168.5 L575.4,167.3 L577.0,166.1 L578.6,164.9 L580.2,163.6 L581.7,162.3 L583.3,160.9 L584.9,159.5 L586.5,158.1 L588.1,156.6 L589.6,155.1 L591.2,153.6 L592.8,152.1 L594.4,150.5 L596.0,149.0 L597.5,147.4 L599.1,145.8 L600.7,144.3 L602.3,142.7 L603.9,141.1 L605.4,139.6 L607.0,138.1 L608.6,136.6 L610.2,135.1 L611.8,133.7 L613.3,132.3 L614.9,130.9 L616.5,129.6 L618.1,128.4 L619.7,127.2 L621.2,126.1 L622.8,125.0 L624.4,124.1 L626.0,123.2 L627.6,122.4 L629.1,121.7 L630.7,121.0 L632.3,120.5 L633.9,120.1 L635.5,119.7 L637.0,119.5 L638.6,119.3 L640.2,119.3 L641.8,119.3 L643.4,119.5 L644.9,119.7 L646.5,120.1 L648.1,120.6 L649.7,121.1 L651.3,121.8 L652.8,122.5 L654.4,123.4 L656.0,124.3 L657.6,125.3 L659.2,126.4 L660.7,127.6 L662.3,128.8 L663.9,130.1 L665.5,131.4 L667.1,132.8 L668.6,134.3 L670.2,135.7 L671.8,137.3 L673.4,138.8 L675.0,140.4 L676.5,142.0 L678.1,143.6 L679.7,145.2" stroke="#ff0a0a" stroke-width="2.3" stroke-dasharray="10 5"/>
</g>
<path d="M411.1,6.7 H679.7 V186.8" class="fr" stroke-width="2.4"/><path d="M411.1,5.5 V186.8 H680.9000000000001" class="fr" stroke-width="2.7"/>
<line x1="407.20000000000005" y1="186.8" x2="411.1" y2="186.8" stroke="#000" stroke-width="2.3"/><text x="405.5" y="192.5" text-anchor="end" class="tk">0.000</text><line x1="407.20000000000005" y1="141.775" x2="411.1" y2="141.775" stroke="#000" stroke-width="2.3"/><text x="405.5" y="147.5" text-anchor="end" class="tk">0.002</text><line x1="407.20000000000005" y1="96.75" x2="411.1" y2="96.75" stroke="#000" stroke-width="2.3"/><text x="405.5" y="102.5" text-anchor="end" class="tk">0.004</text><line x1="407.20000000000005" y1="51.724999999999994" x2="411.1" y2="51.724999999999994" stroke="#000" stroke-width="2.3"/><text x="405.5" y="57.4" text-anchor="end" class="tk">0.006</text><line x1="407.20000000000005" y1="6.699999999999989" x2="411.1" y2="6.699999999999989" stroke="#000" stroke-width="2.3"/><text x="405.5" y="12.4" text-anchor="end" class="tk">0.008</text>
<line x1="411.1" y1="186.8" x2="411.1" y2="190.70000000000002" stroke="#000" stroke-width="2.3"/><text x="411.1" y="204.0" text-anchor="middle" class="tk">0</text><line x1="442.7" y1="186.8" x2="442.7" y2="190.70000000000002" stroke="#000" stroke-width="2.3"/><text x="442.7" y="204.0" text-anchor="middle" class="tk">10</text><line x1="474.3" y1="186.8" x2="474.3" y2="190.70000000000002" stroke="#000" stroke-width="2.3"/><text x="474.3" y="204.0" text-anchor="middle" class="tk">20</text><line x1="505.9" y1="186.8" x2="505.9" y2="190.70000000000002" stroke="#000" stroke-width="2.3"/><text x="505.9" y="204.0" text-anchor="middle" class="tk">30</text><line x1="537.5" y1="186.8" x2="537.5" y2="190.70000000000002" stroke="#000" stroke-width="2.3"/><text x="537.5" y="204.0" text-anchor="middle" class="tk">40</text><line x1="569.1" y1="186.8" x2="569.1" y2="190.70000000000002" stroke="#000" stroke-width="2.3"/><text x="569.1" y="204.0" text-anchor="middle" class="tk">50</text><line x1="600.7" y1="186.8" x2="600.7" y2="190.70000000000002" stroke="#000" stroke-width="2.3"/><text x="600.7" y="204.0" text-anchor="middle" class="tk">60</text><line x1="632.3" y1="186.8" x2="632.3" y2="190.70000000000002" stroke="#000" stroke-width="2.3"/><text x="632.3" y="204.0" text-anchor="middle" class="tk">70</text><line x1="663.9" y1="186.8" x2="663.9" y2="190.70000000000002" stroke="#000" stroke-width="2.3"/><text x="663.9" y="204.0" text-anchor="middle" class="tk">80</text>
<text x="419.3" y="36.2" class="pl" style="font-size:36px">b</text>
<path d="M420.5,101.3 L421.5,101.3 L422.5,101.3 L423.5,101.3 L424.5,101.3 L425.5,101.3 L426.5,101.3 L427.5,101.2 L428.5,101.2 L429.5,101.2 L430.5,101.2 L431.5,101.1 L432.5,101.1 L433.5,101.0 L434.5,101.0 L435.5,100.9 L436.5,100.8 L437.5,100.6 L438.5,100.5 L439.5,100.3 L440.5,100.1 L441.5,99.8 L442.5,99.5 L443.5,99.2 L444.5,98.7 L445.5,98.2 L446.5,97.7 L447.5,97.0 L448.5,96.3 L449.5,95.4 L450.5,94.4 L451.5,93.3 L452.5,92.1 L453.5,90.7 L454.5,89.2 L455.5,87.5 L456.5,85.7 L457.5,83.7 L458.5,81.6 L459.5,79.2 L460.5,76.8 L461.5,74.2 L462.5,71.4 L463.5,68.5 L464.5,65.5 L465.5,62.5 L466.5,59.3 L467.5,56.1 L468.5,52.9 L469.5,49.7 L470.5,46.6 L471.5,43.6 L472.5,40.6 L473.5,37.8 L474.5,35.2 L475.5,32.8 L476.5,30.6 L477.5,28.8 L478.5,27.2 L479.5,25.9 L480.5,25.0 L481.5,24.4 L482.5,24.2 L483.5,24.3 L484.5,24.9 L485.5,25.7 L486.5,26.9 L487.5,28.4 L488.5,30.2 L489.5,32.3 L490.5,34.7 L491.5,37.3 L492.5,40.0 L493.5,43.0 L494.5,46.0 L495.5,49.1 L496.5,52.3 L497.5,55.5 L498.5,58.7 L499.5,61.8 L500.5,64.9 L501.5,67.9 L502.5,70.8 L503.5,73.6 L504.5,76.3 L505.5,78.8 L506.5,81.1 L507.5,83.3 L508.5,85.3 L509.5,87.2 L510.5,88.9 L511.5,90.4 L512.5,91.8 L513.5,93.1 L514.5,94.2 L515.5,95.2 L516.5,96.1 L517.5,96.9 L518.5,97.5 L519.5,98.1 L520.5,98.6 L521.5,99.1 L522.5,99.5 L523.5,99.8 L524.5,100.0 L525.5,100.3 L526.5,100.5 L527.5,100.6 L528.5,100.7 L529.5,100.9 L530.5,100.9 L531.5,101.0 L532.5,101.1 L533.5,101.1 L534.5,101.2 L535.5,101.2 L536.5,101.2 L537.5,101.2 L538.5,101.2 L539.5,101.3 L540.5,101.3 L541.5,101.3 L542.5,101.3 L543.5,101.3" stroke="#a01c1c" stroke-width="1.7" fill="none" stroke-dasharray="5.8 2.6"/>
<circle cx="482.6" cy="24" r="2.7" fill="#8c0000"/>
<line x1="467" y1="55.5" x2="467" y2="102" stroke="#b01818" stroke-width="1.5"/>
<line x1="498.2" y1="55.5" x2="498.2" y2="102" stroke="#b01818" stroke-width="1.5"/>
<line x1="471" y1="85" x2="494" y2="85" stroke="#000" stroke-width="2"/>
<polygon points="467.6,85 475.2,80.4 475.2,89.6" fill="#000"/>
<polygon points="497.6,85 490,80.4 490,89.6" fill="#000"/>
<text x="489.4" y="23" class="mt" style="font-size:15px">A</text>
<text x="475.3" y="80.8" class="mt" style="font-size:23px;fill:#111">σ</text>
<text class="mt" style="font-size:15.5px" y="160.7"><tspan x="417.7">θ</tspan><tspan x="425.9" dy="3" font-size="13">i</tspan><tspan x="451.4" dy="-3" font-style="normal" textLength="15.6" lengthAdjust="spacingAndGlyphs">10</tspan><tspan x="467.3" dy="-4.5" font-style="normal" font-size="10">°</tspan></text><text class="mt" style="font-size:20px;font-style:normal;stroke-width:0.5px" x="434.8" y="163.0" textLength="11.2" lengthAdjust="spacingAndGlyphs">=</text>
<text class="mt" style="font-size:15.5px" y="160.7"><tspan x="482.3">θ</tspan><tspan x="490.5" dy="3" font-size="13">i</tspan><tspan x="516.0" dy="-3" font-style="normal" textLength="15.6" lengthAdjust="spacingAndGlyphs">30</tspan><tspan x="531.9" dy="-4.5" font-style="normal" font-size="10">°</tspan></text><text class="mt" style="font-size:20px;font-style:normal;stroke-width:0.5px" x="499.4" y="163.0" textLength="11.2" lengthAdjust="spacingAndGlyphs">=</text>
<text class="mt" style="font-size:15.5px" y="150.4"><tspan x="539">θ</tspan><tspan x="547.2" dy="3" font-size="13">i</tspan><tspan x="572.7" dy="-3" font-style="normal" textLength="15.6" lengthAdjust="spacingAndGlyphs">45</tspan><tspan x="588.6" dy="-4.5" font-style="normal" font-size="10">°</tspan></text><text class="mt" style="font-size:20px;font-style:normal;stroke-width:0.5px" x="556.1" y="152.7" textLength="11.2" lengthAdjust="spacingAndGlyphs">=</text>
<text class="mt" style="font-size:15.5px" y="47.7"><tspan x="610">θ</tspan><tspan x="618.2" dy="3" font-size="13">i</tspan><tspan x="643.7" dy="-3" font-style="normal" textLength="15.6" lengthAdjust="spacingAndGlyphs">70</tspan><tspan x="659.6" dy="-4.5" font-style="normal" font-size="10">°</tspan></text><text class="mt" style="font-size:20px;font-style:normal;stroke-width:0.5px" x="627.1" y="50.0" textLength="11.2" lengthAdjust="spacingAndGlyphs">=</text>
<text x="537.6" y="63.6" class="lb">sample 2</text>
<line x1="600.5" y1="58.4" x2="628" y2="58.4" stroke="#1a1a1a" stroke-width="1.5"/>
<text x="500.1" y="129.0" class="lb">sample 1</text>
<line x1="563.5" y1="124" x2="626" y2="124" stroke="#1a1a1a" stroke-width="1.5"/>
<text class="ax" y="223.5" style="font-size:19.8px"><tspan x="453.0">Scattering</tspan><tspan x="551.5" textLength="50.6" lengthAdjust="spacingAndGlyphs">angle,</tspan><tspan x="612.2" font-style="italic">θ</tspan><tspan x="624.7" dy="3.2" font-style="italic" font-size="14">s</tspan><tspan x="634.6" dy="-3.2">(</tspan><tspan x="640.9" dy="-5.8" font-size="12.8">o</tspan><tspan x="648.1" dy="5.8">)</tspan></text>
<text transform="translate(357.1,0) rotate(-90)" class="ax"><tspan x="-165.2">Intensity</tspan><tspan x="-82.3">(a.u.)</tspan></text>
</g>
<g id="panel-c">
<clipPath id="cc"><rect x="70.8" y="235.0" width="268.59999999999997" height="180.0"/></clipPath>
<g clip-path="url(#cc)">
<path d="M65.4,401.5 L76.2,412.3 M65.4,412.3 L76.2,401.5" stroke="#000" stroke-width="2.5" stroke-linecap="round" fill="none"/>
<path d="M97.0,401.5 L107.8,412.3 M97.0,412.3 L107.8,401.5" stroke="#000" stroke-width="2.5" stroke-linecap="round" fill="none"/>
<path d="M128.6,401.5 L139.4,412.3 M128.6,412.3 L139.4,401.5" stroke="#000" stroke-width="2.5" stroke-linecap="round" fill="none"/>
<path d="M160.2,401.5 L171.0,412.3 M160.2,412.3 L171.0,401.5" stroke="#000" stroke-width="2.5" stroke-linecap="round" fill="none"/>
<path d="M191.8,399.9 L202.6,410.7 M191.8,410.7 L202.6,399.9" stroke="#000" stroke-width="2.5" stroke-linecap="round" fill="none"/>
<path d="M207.6,398.4 L218.4,409.1 M207.6,409.1 L218.4,398.4" stroke="#000" stroke-width="2.5" stroke-linecap="round" fill="none"/>
<path d="M223.4,395.7 L234.2,406.4 M223.4,406.4 L234.2,395.7" stroke="#000" stroke-width="2.5" stroke-linecap="round" fill="none"/>
<path d="M255.0,385.3 L265.8,396.1 M255.0,396.1 L265.8,385.3" stroke="#000" stroke-width="2.5" stroke-linecap="round" fill="none"/>
<path d="M286.6,360.1 L297.4,370.9 M286.6,370.9 L297.4,360.1" stroke="#000" stroke-width="2.5" stroke-linecap="round" fill="none"/>
<path d="M318.2,282.7 L329.0,293.5 M318.2,293.5 L329.0,282.7" stroke="#000" stroke-width="2.5" stroke-linecap="round" fill="none"/>
<circle cx="70.8" cy="411.4" r="5.6" fill="none" stroke="#000" stroke-width="2.5"/>
<circle cx="102.4" cy="411.4" r="5.6" fill="none" stroke="#000" stroke-width="2.5"/>
<circle cx="134.0" cy="411.4" r="5.6" fill="none" stroke="#000" stroke-width="2.5"/>
<circle cx="165.6" cy="411.4" r="5.6" fill="none" stroke="#000" stroke-width="2.5"/>
<circle cx="197.2" cy="410.7" r="5.6" fill="none" stroke="#000" stroke-width="2.5"/>
<circle cx="213.0" cy="410.1" r="5.6" fill="none" stroke="#000" stroke-width="2.5"/>
<circle cx="228.8" cy="408.7" r="5.6" fill="none" stroke="#000" stroke-width="2.5"/>
<circle cx="260.4" cy="402.1" r="5.6" fill="none" stroke="#000" stroke-width="2.5"/>
<circle cx="292.0" cy="388.4" r="5.6" fill="none" stroke="#000" stroke-width="2.5"/>
<circle cx="323.6" cy="353.8" r="5.6" fill="none" stroke="#000" stroke-width="2.5"/>
</g>
<path d="M70.8,235.0 H339.4 V415.0" class="fr" stroke-width="2.4"/><path d="M70.8,233.8 V415.0 H340.59999999999997" class="fr" stroke-width="2.7"/>
<line x1="66.89999999999999" y1="415.0" x2="70.8" y2="415.0" stroke="#000" stroke-width="2.3"/><text x="65.2" y="420.7" text-anchor="end" class="tk">0.000</text><line x1="66.89999999999999" y1="370.0" x2="70.8" y2="370.0" stroke="#000" stroke-width="2.3"/><text x="65.2" y="375.7" text-anchor="end" class="tk">0.005</text><line x1="66.89999999999999" y1="325.0" x2="70.8" y2="325.0" stroke="#000" stroke-width="2.3"/><text x="65.2" y="330.7" text-anchor="end" class="tk">0.010</text><line x1="66.89999999999999" y1="280.0" x2="70.8" y2="280.0" stroke="#000" stroke-width="2.3"/><text x="65.2" y="285.7" text-anchor="end" class="tk">0.015</text><line x1="66.89999999999999" y1="235.0" x2="70.8" y2="235.0" stroke="#000" stroke-width="2.3"/><text x="65.2" y="240.7" text-anchor="end" class="tk">0.020</text>
<line x1="70.8" y1="415.0" x2="70.8" y2="418.9" stroke="#000" stroke-width="2.3"/><text x="70.8" y="432.2" text-anchor="middle" class="tk">0</text><line x1="102.4" y1="415.0" x2="102.4" y2="418.9" stroke="#000" stroke-width="2.3"/><text x="102.4" y="432.2" text-anchor="middle" class="tk">10</text><line x1="134.0" y1="415.0" x2="134.0" y2="418.9" stroke="#000" stroke-width="2.3"/><text x="134.0" y="432.2" text-anchor="middle" class="tk">20</text><line x1="165.6" y1="415.0" x2="165.6" y2="418.9" stroke="#000" stroke-width="2.3"/><text x="165.6" y="432.2" text-anchor="middle" class="tk">30</text><line x1="197.2" y1="415.0" x2="197.2" y2="418.9" stroke="#000" stroke-width="2.3"/><text x="197.2" y="432.2" text-anchor="middle" class="tk">40</text><line x1="228.8" y1="415.0" x2="228.8" y2="418.9" stroke="#000" stroke-width="2.3"/><text x="228.8" y="432.2" text-anchor="middle" class="tk">50</text><line x1="260.4" y1="415.0" x2="260.4" y2="418.9" stroke="#000" stroke-width="2.3"/><text x="260.4" y="432.2" text-anchor="middle" class="tk">60</text><line x1="292.0" y1="415.0" x2="292.0" y2="418.9" stroke="#000" stroke-width="2.3"/><text x="292.0" y="432.2" text-anchor="middle" class="tk">70</text><line x1="323.6" y1="415.0" x2="323.6" y2="418.9" stroke="#000" stroke-width="2.3"/><text x="323.6" y="432.2" text-anchor="middle" class="tk">80</text>
<text x="77.6" y="265.8" class="pl" style="font-size:37px">c</text>
<text x="223.2" y="293.0" class="lb">sample 2</text>
<line x1="286.3" y1="288.3" x2="312" y2="288.3" stroke="#1a1a1a" stroke-width="1.5"/>
<text x="184.9" y="358.5" class="lb">sample 1</text>
<line x1="249.2" y1="353.6" x2="317.5" y2="353.6" stroke="#1a1a1a" stroke-width="1.5"/>
<text class="ax" y="449.5" style="font-size:19.8px"><tspan x="126.1">Incident</tspan><tspan x="204.2" textLength="51.0" lengthAdjust="spacingAndGlyphs">angle,</tspan><tspan x="263.6" font-style="italic">θ</tspan><tspan x="277.1" dy="3.2" font-style="italic" font-size="14">i</tspan><tspan x="283.8" dy="-3.2">(</tspan><tspan x="290.1" dy="-5.8" font-size="12.8">o</tspan><tspan x="297.5" dy="5.8">)</tspan></text>
<text transform="translate(16.2,0) rotate(-90)" class="ax" style="font-size:20.6px"><tspan x="-350.3" font-style="italic">A</tspan><tspan x="-329.2">(a.u.)</tspan></text>
</g>
<g id="panel-d">
<clipPath id="cd"><rect x="392.2" y="234.0" width="291.90000000000003" height="181.0"/></clipPath>
<g clip-path="url(#cd)">
<path d="M386.8,343.5 L397.6,354.3 M386.8,354.3 L397.6,343.5" stroke="#000" stroke-width="2.5" stroke-linecap="round" fill="none"/>
<path d="M421.1,344.9 L431.9,355.7 M421.1,355.7 L431.9,344.9" stroke="#000" stroke-width="2.5" stroke-linecap="round" fill="none"/>
<path d="M455.5,344.0 L466.3,354.8 M455.5,354.8 L466.3,344.0" stroke="#000" stroke-width="2.5" stroke-linecap="round" fill="none"/>
<path d="M489.8,344.0 L500.6,354.8 M489.8,354.8 L500.6,344.0" stroke="#000" stroke-width="2.5" stroke-linecap="round" fill="none"/>
<path d="M524.2,343.1 L535.0,353.9 M524.2,353.9 L535.0,343.1" stroke="#000" stroke-width="2.5" stroke-linecap="round" fill="none"/>
<path d="M541.3,342.6 L552.1,353.4 M541.3,353.4 L552.1,342.6" stroke="#000" stroke-width="2.5" stroke-linecap="round" fill="none"/>
<path d="M558.5,341.7 L569.3,352.5 M558.5,352.5 L569.3,341.7" stroke="#000" stroke-width="2.5" stroke-linecap="round" fill="none"/>
<path d="M592.8,341.7 L603.6,352.5 M592.8,352.5 L603.6,341.7" stroke="#000" stroke-width="2.5" stroke-linecap="round" fill="none"/>
<path d="M627.2,344.9 L638.0,355.7 M627.2,355.7 L638.0,344.9" stroke="#000" stroke-width="2.5" stroke-linecap="round" fill="none"/>
<path d="M661.5,353.5 L672.3,364.3 M661.5,364.3 L672.3,353.5" stroke="#000" stroke-width="2.5" stroke-linecap="round" fill="none"/>
<circle cx="392.2" cy="275.2" r="5.6" fill="none" stroke="#000" stroke-width="2.5"/>
<circle cx="426.5" cy="276.5" r="5.6" fill="none" stroke="#000" stroke-width="2.5"/>
<circle cx="460.9" cy="274.7" r="5.6" fill="none" stroke="#000" stroke-width="2.5"/>
<circle cx="495.2" cy="270.2" r="5.6" fill="none" stroke="#000" stroke-width="2.5"/>
<circle cx="529.6" cy="264.8" r="5.6" fill="none" stroke="#000" stroke-width="2.5"/>
<circle cx="546.7" cy="264.3" r="5.6" fill="none" stroke="#000" stroke-width="2.5"/>
<circle cx="563.9" cy="268.4" r="5.6" fill="none" stroke="#000" stroke-width="2.5"/>
<circle cx="598.2" cy="284.7" r="5.6" fill="none" stroke="#000" stroke-width="2.5"/>
<circle cx="632.6" cy="302.8" r="5.6" fill="none" stroke="#000" stroke-width="2.5"/>
<circle cx="666.9" cy="307.3" r="5.6" fill="none" stroke="#000" stroke-width="2.5"/>
</g>
<path d="M392.2,234.0 H684.1 V415.0" class="fr" stroke-width="2.4"/><path d="M392.2,232.8 V415.0 H685.3000000000001" class="fr" stroke-width="2.7"/>
<line x1="388.3" y1="415.0" x2="392.2" y2="415.0" stroke="#000" stroke-width="2.3"/><text x="386.6" y="420.7" text-anchor="end" class="tk">0</text><line x1="388.3" y1="369.75" x2="392.2" y2="369.75" stroke="#000" stroke-width="2.3"/><text x="386.6" y="375.4" text-anchor="end" class="tk">5</text><line x1="388.3" y1="324.5" x2="392.2" y2="324.5" stroke="#000" stroke-width="2.3"/><text x="386.6" y="330.2" text-anchor="end" class="tk">10</text><line x1="388.3" y1="279.25" x2="392.2" y2="279.25" stroke="#000" stroke-width="2.3"/><text x="386.6" y="284.9" text-anchor="end" class="tk">15</text><line x1="388.3" y1="234.0" x2="392.2" y2="234.0" stroke="#000" stroke-width="2.3"/><text x="386.6" y="239.7" text-anchor="end" class="tk">20</text>
<line x1="392.2" y1="415.0" x2="392.2" y2="418.9" stroke="#000" stroke-width="2.3"/><text x="392.2" y="432.2" text-anchor="middle" class="tk">0</text><line x1="426.5" y1="415.0" x2="426.5" y2="418.9" stroke="#000" stroke-width="2.3"/><text x="426.5" y="432.2" text-anchor="middle" class="tk">10</text><line x1="460.9" y1="415.0" x2="460.9" y2="418.9" stroke="#000" stroke-width="2.3"/><text x="460.9" y="432.2" text-anchor="middle" class="tk">20</text><line x1="495.2" y1="415.0" x2="495.2" y2="418.9" stroke="#000" stroke-width="2.3"/><text x="495.2" y="432.2" text-anchor="middle" class="tk">30</text><line x1="529.6" y1="415.0" x2="529.6" y2="418.9" stroke="#000" stroke-width="2.3"/><text x="529.6" y="432.2" text-anchor="middle" class="tk">40</text><line x1="563.9" y1="415.0" x2="563.9" y2="418.9" stroke="#000" stroke-width="2.3"/><text x="563.9" y="432.2" text-anchor="middle" class="tk">50</text><line x1="598.2" y1="415.0" x2="598.2" y2="418.9" stroke="#000" stroke-width="2.3"/><text x="598.2" y="432.2" text-anchor="middle" class="tk">60</text><line x1="632.6" y1="415.0" x2="632.6" y2="418.9" stroke="#000" stroke-width="2.3"/><text x="632.6" y="432.2" text-anchor="middle" class="tk">70</text><line x1="666.9" y1="415.0" x2="666.9" y2="418.9" stroke="#000" stroke-width="2.3"/><text x="666.9" y="432.2" text-anchor="middle" class="tk">80</text>
<text x="653.4" y="268.4" class="pl" style="font-size:36px">d</text>
<text x="402.7" y="321.5" class="lb">sample 1</text>
<line x1="426.6" y1="284" x2="426.6" y2="310.4" stroke="#1a1a1a" stroke-width="1.5"/>
<text x="541.6" y="313.5" class="lb">sample 2</text>
<line x1="563.8" y1="316.5" x2="563.8" y2="342.5" stroke="#1a1a1a" stroke-width="1.5"/>
<text class="ax" y="449.5" style="font-size:19.8px"><tspan x="455.9">Incident</tspan><tspan x="533.5" textLength="51.0" lengthAdjust="spacingAndGlyphs">angle,</tspan><tspan x="594.7" font-style="italic">θ</tspan><tspan x="606.6" dy="3.2" font-style="italic" font-size="14">i</tspan><tspan x="613.1" dy="-3.2">(</tspan><tspan x="619.3" dy="-5.8" font-size="12.8">o</tspan><tspan x="626.3" dy="5.8">)</tspan></text>
<text transform="translate(363.7,322) rotate(-90)" text-anchor="middle" class="ax" style="word-spacing:2px"><tspan font-style="italic">σ</tspan> (<tspan font-size="12.5" dy="-5.5">o</tspan><tspan dy="5.5">)</tspan></text>
</g>
</svg>
</body></html>
